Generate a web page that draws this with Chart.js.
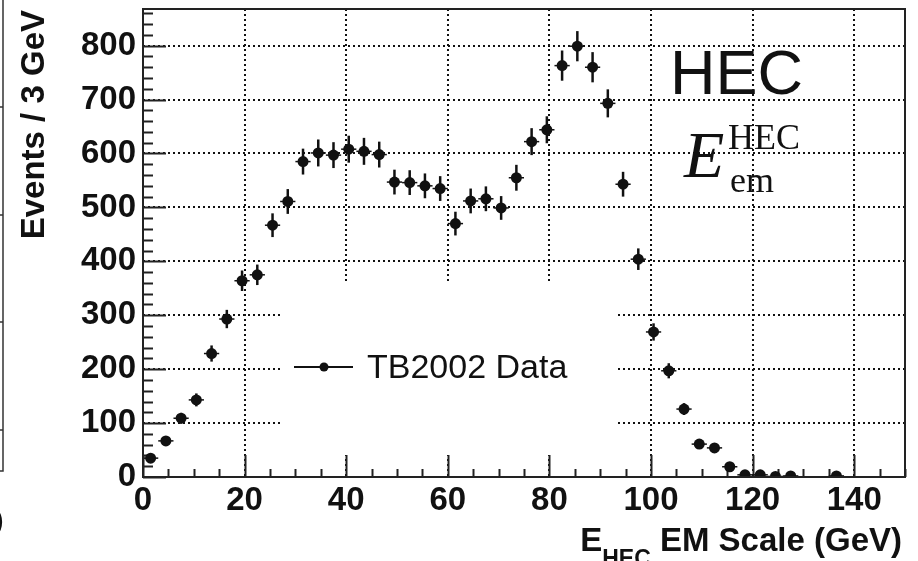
<!DOCTYPE html>
<html>
<head>
<meta charset="utf-8">
<title>HEC EM scale energy</title>
<script src="https://cdn.jsdelivr.net/npm/chart.js@4.4.1/dist/chart.umd.min.js"></script>
<style>
  html, body { margin: 0; padding: 0; background: #fff; }
  #wrap { width: 918px; height: 561px; position: relative; }
</style>
</head>
<body>
<div id="wrap"><canvas id="chart"></canvas></div>
<script>
// 3 GeV bins, centre of each filled bin
const binCenters = [1.5, 4.5, 7.5, 10.5, 13.5, 16.5, 19.5, 22.5, 25.5, 28.5,
  31.5, 34.5, 37.5, 40.5, 43.5, 46.5, 49.5, 52.5, 55.5, 58.5,
  61.5, 64.5, 67.5, 70.5, 73.5, 76.5, 79.5, 82.5, 85.5, 88.5,
  91.5, 94.5, 97.5, 100.5, 103.5, 106.5, 109.5, 112.5, 115.5, 118.5,
  121.5, 124.5, 127.5, 136.5];
const events = [35, 67, 109, 143, 229, 293, 364, 375, 467, 511,
  585, 601, 597, 608, 604, 598, 547, 546, 540, 535,
  470, 512, 516, 499, 555, 622, 644, 763, 799, 760,
  693, 543, 404, 269, 197, 126, 61, 54, 19, 4,
  4, 1, 2, 2];
const eventErrors = [6, 8, 10, 12, 15, 17, 19, 19, 22, 23,
  24, 25, 24, 25, 25, 24, 23, 23, 23, 23,
  22, 23, 23, 22, 24, 25, 25, 28, 28, 28,
  26, 23, 20, 16, 14, 11, 8, 7, 4, 2,
  2, 1, 1, 1];
const binHalfWidth = 1.5;
const xTicks = [0, 20, 40, 60, 80, 100, 120, 140];
const yTicks = [0, 100, 200, 300, 400, 500, 600, 700, 800];

const SANS = '"Liberation Sans", Arial, Helvetica, sans-serif';
const SERIF = '"Liberation Serif", "Times New Roman", serif';
const INK = '#111';

const points = binCenters.map((x, i) => ({ x: x, y: events[i], err: eventErrors[i] }));

// ROOT-style decorations: inward ticks, frame, error bars, legend, labels
const rootStyle = {
  id: 'rootStyle',
  beforeDatasetsDraw(chart) {
    const { ctx, chartArea: a, scales: { x, y } } = chart;
    ctx.save();

    // legend pad blanks out the grid behind it
    ctx.fillStyle = '#fff';
    ctx.fillRect(283, 281, 334, 174);

    // inward tick marks
    ctx.strokeStyle = '#222';
    ctx.lineWidth = 2;
    ctx.beginPath();
    for (let v = 0; v <= x.max; v += 5) {
      const px = Math.round(x.getPixelForValue(v)) + 0.5;
      const len = v % 20 === 0 ? 22 : 8;
      ctx.moveTo(px, a.bottom);
      ctx.lineTo(px, a.bottom - len);
    }
    for (let v = 0; v <= y.max; v += 20) {
      const py = Math.round(y.getPixelForValue(v)) + 0.5;
      const len = v % 100 === 0 ? 23 : 10;
      ctx.moveTo(a.left, py);
      ctx.lineTo(a.left + len, py);
    }
    ctx.stroke();

    // error bars
    const meta = chart.getDatasetMeta(0);
    ctx.strokeStyle = INK;
    meta.data.forEach((el, i) => {
      const p = points[i];
      const x0 = x.getPixelForValue(p.x - binHalfWidth);
      const x1 = x.getPixelForValue(p.x + binHalfWidth);
      const y0 = y.getPixelForValue(p.y - p.err);
      const y1 = y.getPixelForValue(p.y + p.err);
      ctx.lineWidth = 2.5;
      ctx.beginPath();
      ctx.moveTo(el.x, y0);
      ctx.lineTo(el.x, y1);
      ctx.stroke();
      ctx.lineWidth = 1.5;
      ctx.beginPath();
      ctx.moveTo(x0, el.y);
      ctx.lineTo(x1, el.y);
      ctx.stroke();
    });

    // legend entry
    const ds = chart.data.datasets[0];
    ctx.lineWidth = 2;
    ctx.beginPath();
    ctx.moveTo(294, 367);
    ctx.lineTo(353, 367);
    ctx.stroke();
    ctx.fillStyle = INK;
    ctx.beginPath();
    ctx.arc(324, 367, 4.5, 0, Math.PI * 2);
    ctx.fill();
    ctx.font = '34px ' + SANS;
    ctx.textAlign = 'left';
    ctx.textBaseline = 'alphabetic';
    ctx.fillText(ds.label, 367, 378);
    ctx.restore();
  },
  afterDraw(chart) {
    const { ctx, chartArea: a } = chart;
    ctx.save();

    // plot frame
    ctx.strokeStyle = '#222';
    ctx.lineWidth = 2;
    ctx.strokeRect(a.left, a.top, a.right - a.left, a.bottom - a.top);

    ctx.fillStyle = INK;
    ctx.textBaseline = 'alphabetic';

    // y title, right-aligned to the top of the axis
    ctx.save();
    ctx.translate(44, 10);
    ctx.rotate(-Math.PI / 2);
    ctx.textAlign = 'right';
    ctx.font = 'bold 33px ' + SANS;
    ctx.fillText('Events / 3 GeV', 0, 0);
    ctx.restore();

    // x title with subscript, right-aligned to the end of the axis
    ctx.textAlign = 'left';
    const mainFont = 'bold 33px ' + SANS;
    const subFont = 'bold 23px ' + SANS;
    ctx.font = mainFont;
    const wE = ctx.measureText('E').width;
    const wRest = ctx.measureText(' EM Scale (GeV)').width;
    ctx.font = subFont;
    const wSub = ctx.measureText('HEC').width;
    let tx = 902 - (wE + wSub + wRest);
    ctx.font = mainFont;
    ctx.fillText('E', tx, 551);
    ctx.font = subFont;
    ctx.fillText('HEC', tx + wE, 566);
    ctx.font = mainFont;
    ctx.fillText(' EM Scale (GeV)', tx + wE + wSub, 551);

    // detector label
    ctx.font = '63px ' + SANS;
    ctx.fillText('HEC', 670, 94);
    ctx.font = 'italic 66px ' + SERIF;
    ctx.fillText('E', 684, 177);
    ctx.font = '36px ' + SERIF;
    ctx.fillText('HEC', 728, 149);
    ctx.fillText('em', 730, 192);

    // edge of the neighbouring panel
    ctx.strokeStyle = '#333';
    ctx.lineWidth = 1.5;
    ctx.beginPath();
    ctx.moveTo(3, 0);
    ctx.lineTo(3, 471);
    ctx.lineTo(0, 471);
    [107, 215, 322, 430].forEach(v => {
      ctx.moveTo(3, v);
      ctx.lineTo(0, v);
    });
    ctx.stroke();
    ctx.font = '30px ' + SANS;
    ctx.fillText(')', -6, 530);
    ctx.restore();
  }
};

new Chart(document.getElementById('chart'), {
  type: 'scatter',
  data: {
    datasets: [{
      label: 'TB2002 Data',
      data: points,
      pointRadius: 5.5,
      pointHoverRadius: 5.5,
      pointBackgroundColor: INK,
      pointBorderColor: INK,
      pointBorderWidth: 0
    }]
  },
  plugins: [rootStyle],
  options: {
    responsive: true,
    maintainAspectRatio: false,
    devicePixelRatio: 1,
    animation: false,
    events: [],
    layout: { padding: { left: 0, right: 13, top: 9, bottom: 0 } },
    plugins: {
      legend: { display: false },
      tooltip: { enabled: false }
    },
    scales: {
      x: {
        type: 'linear',
        min: 0,
        max: 150,
        afterFit: s => {
          s.height = 84;
          s.paddingLeft = 0;
          s.paddingRight = 0;
        },
        afterBuildTicks: s => { s.ticks = xTicks.map(v => ({ value: v })); },
        ticks: {
          color: INK,
          padding: 4,
          font: { family: SANS, size: 33, weight: 'bold' },
          maxRotation: 0,
          autoSkip: false
        },
        grid: { color: '#111', lineWidth: 2, drawTicks: false },
        border: { display: false, dash: [2, 3] }
      },
      y: {
        type: 'linear',
        min: 0,
        max: 868,
        afterFit: s => {
          s.width = 143;
          s.paddingTop = 0;
          s.paddingBottom = 0;
        },
        afterBuildTicks: s => { s.ticks = yTicks.map(v => ({ value: v })); },
        ticks: {
          color: INK,
          padding: 7,
          font: { family: SANS, size: 33, weight: 'bold' },
          autoSkip: false
        },
        grid: { color: '#111', lineWidth: 2, drawTicks: false },
        border: { display: false, dash: [2, 3] }
      }
    }
  }
});
</script>
</body>
</html>
